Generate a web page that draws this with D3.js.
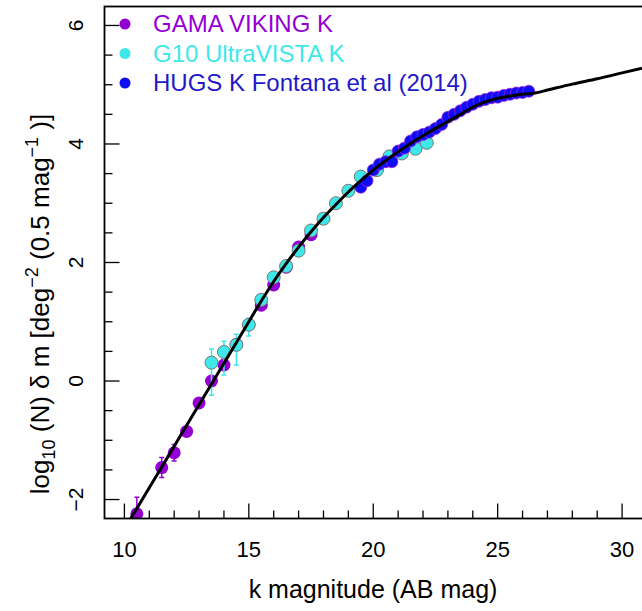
<!DOCTYPE html>
<html>
<head>
<meta charset="utf-8">
<script src="https://cdn.jsdelivr.net/npm/d3@7"></script>
<style>
  body { margin: 0; background: #fff; }
  text { font-family: "Liberation Sans", Arial, Helvetica, sans-serif; }
</style>
</head>
<body>
<svg width="642" height="611"></svg>
<script>
// GAMA VIKING K
var gamaMag  = [10.5, 11.5, 12.0, 12.5, 13.0, 13.5, 14.0, 14.5, 15.0, 15.5, 16.0, 16.5, 17.0, 17.5];
var gamaLogN = [-2.24, -1.46, -1.21, -0.85, -0.37, 0.0, 0.27, 0.62, 0.95, 1.28, 1.62, 1.92, 2.26, 2.47];
var gamaErr  = [0.28, 0.17, 0.14, 0.05, 0.04, 0.03, 0.03, 0.02, 0.02, 0.02, 0.02, 0.02, 0.02, 0.02];

// G10 UltraVISTA K
var g10Mag  = [13.5, 14.0, 14.5, 15.0, 15.5, 16.0, 16.5, 17.0, 17.5, 18.0, 18.5, 19.0, 19.5, 20.15, 20.65, 21.15, 21.7, 22.15];
var g10LogN = [0.31, 0.49, 0.61, 0.95, 1.37, 1.75, 1.94, 2.2, 2.54, 2.74, 3.0, 3.21, 3.45, 3.56, 3.79, 3.84, 3.92, 4.02];
var g10ErrLo = [0.55, 0.39, 0.34, 0.19, 0.03, 0.03, 0.02, 0.02, 0.02, 0.02, 0.02, 0.02, 0.02, 0.02, 0.02, 0.02, 0.02, 0.02];
var g10ErrHi = [0.23, 0.18, 0.18, 0.11, 0.03, 0.03, 0.02, 0.02, 0.02, 0.02, 0.02, 0.02, 0.02, 0.02, 0.02, 0.02, 0.02, 0.02];

// HUGS K Fontana et al (2014)
var hugsMag  = [19.5, 19.75, 20.0, 20.25, 20.5, 20.75, 21.0, 21.25, 21.5, 21.75, 22.0, 22.25, 22.5, 22.75,
                23.0, 23.25, 23.5, 23.75, 24.0, 24.25, 24.5, 24.75, 25.0, 25.25, 25.5, 25.75, 26.0, 26.25];
var hugsLogN = [3.27, 3.38, 3.56, 3.66, 3.70, 3.70, 3.88, 3.93, 4.05, 4.12, 4.16, 4.20, 4.26, 4.33,
                4.45, 4.50, 4.56, 4.62, 4.67, 4.72, 4.75, 4.78, 4.79, 4.82, 4.84, 4.86, 4.87, 4.89];

// model curve
var modelMag  = [10.0, 10.5, 11.0, 11.5, 12.0, 12.5, 13.0, 13.5, 14.0, 14.5, 15.0, 15.5, 16.0, 16.5, 17.0, 17.5,
                 18.0, 18.5, 19.0, 19.5, 20.0, 20.5, 21.0, 21.5, 22.0, 22.5, 23.0, 23.5, 24.0, 24.5, 25.0,
                 25.5, 26.0, 26.5, 27.0, 28.0, 29.0, 30.0, 30.8];
var modelLogN = [-2.5, -2.15, -1.80, -1.45, -1.10, -0.75, -0.40, -0.05, 0.30, 0.65, 1.00, 1.35, 1.68, 1.98, 2.26, 2.52,
                 2.76, 2.98, 3.19, 3.38, 3.56, 3.72, 3.87, 4.01, 4.14, 4.26, 4.38, 4.50, 4.62, 4.71, 4.77,
                 4.81, 4.84, 4.86, 4.91, 5.01, 5.10, 5.20, 5.28];

var xTicks = [10, 15, 20, 25, 30];
var yTicks = [-2, 0, 2, 4, 6];

var purple = "#9400d3", cyan = "#3ee8e8", blue = "#0c0cf5";

var svg = d3.select("svg");
var pL = 104.5, pR = 642, pT = 6.5, pB = 518.5;

var x = d3.scaleLinear().domain([9.2, 30.8]).range([pL, pR]);
var y = d3.scaleLinear().domain([-2.32, 6.32]).range([pB, pT]);

svg.append("defs").append("clipPath").attr("id", "clip")
  .append("rect").attr("x", pL).attr("y", pT).attr("width", pR - pL).attr("height", pB - pT);

var plot = svg.append("g").attr("clip-path", "url(#clip)");

function zip(a, b) { return a.map(function (d, i) { return {m: d, v: b[i], i: i}; }); }

function errorBars(data, lo, hi, color) {
  var g = plot.append("g").attr("stroke", color).attr("stroke-width", 1.5);
  data.forEach(function (d) {
    var y0 = y(d.v - lo[d.i]), y1 = y(d.v + hi[d.i]), cx = x(d.m);
    g.append("line").attr("x1", cx).attr("x2", cx).attr("y1", y0).attr("y2", y1);
    g.append("line").attr("x1", cx - 2.5).attr("x2", cx + 2.5).attr("y1", y0).attr("y2", y0);
    g.append("line").attr("x1", cx - 2.5).attr("x2", cx + 2.5).attr("y1", y1).attr("y2", y1);
  });
}

var gama = zip(gamaMag, gamaLogN);
var g10 = zip(g10Mag, g10LogN);
var hugs = zip(hugsMag, hugsLogN);

errorBars(gama, gamaErr, gamaErr, purple);
plot.append("g").selectAll("circle").data(gama).enter().append("circle")
  .attr("cx", function (d) { return x(d.m); })
  .attr("cy", function (d) { return y(d.v); })
  .attr("r", 6.5)
  .attr("fill", purple);

errorBars(g10, g10ErrLo, g10ErrHi, cyan);
plot.append("g").selectAll("circle").data(g10).enter().append("circle")
  .attr("cx", function (d) { return x(d.m); })
  .attr("cy", function (d) { return y(d.v); })
  .attr("r", 6.5)
  .attr("fill", cyan)
  .attr("stroke", "#777")
  .attr("stroke-width", 1);

plot.append("g").selectAll("circle").data(hugs).enter().append("circle")
  .attr("cx", function (d) { return x(d.m); })
  .attr("cy", function (d) { return y(d.v); })
  .attr("r", 6)
  .attr("fill", blue)
  .attr("stroke", "#9a22dd")
  .attr("stroke-width", 0.8);

var line = d3.line()
  .x(function (d) { return x(d.m); })
  .y(function (d) { return y(d.v); })
  .curve(d3.curveMonotoneX);

plot.append("path")
  .datum(zip(modelMag, modelLogN))
  .attr("d", line)
  .attr("fill", "none")
  .attr("stroke", "#000")
  .attr("stroke-width", 3);

// frame
svg.append("rect")
  .attr("x", pL).attr("y", pT)
  .attr("width", pR - pL + 5).attr("height", pB - pT)
  .attr("fill", "none").attr("stroke", "#000").attr("stroke-width", 1.8);

// ticks (inside)
var xMinor = d3.range(10, 31, 1);
svg.append("g").selectAll("line").data(xMinor).enter().append("line")
  .attr("x1", function (d) { return x(d); })
  .attr("x2", function (d) { return x(d); })
  .attr("y1", pB)
  .attr("y2", function (d) { return pB - (d % 5 === 0 ? 15 : 8); })
  .attr("stroke", "#000").attr("stroke-width", 1.3);

var yMinor = d3.range(-2, 6.01, 0.5);
svg.append("g").selectAll("line").data(yMinor).enter().append("line")
  .attr("y1", function (d) { return y(d); })
  .attr("y2", function (d) { return y(d); })
  .attr("x1", pL)
  .attr("x2", function (d) { return pL + (d % 2 === 0 ? 15 : 8); })
  .attr("stroke", "#000").attr("stroke-width", 1.3);

// tick labels
svg.append("g").selectAll("text").data(xTicks).enter().append("text")
  .attr("x", function (d) { return x(d); })
  .attr("y", 557)
  .attr("text-anchor", "middle")
  .attr("font-size", 22)
  .text(function (d) { return d; });

svg.append("g").selectAll("text").data(yTicks).enter().append("text")
  .attr("transform", function (d) { return "translate(83," + y(d) + ") rotate(-90)"; })
  .attr("text-anchor", "middle")
  .attr("font-size", 21)
  .text(function (d) { return d < 0 ? "\u2212" + Math.abs(d) : d; });

// axis titles
svg.append("text")
  .attr("x", 373).attr("y", 598)
  .attr("text-anchor", "middle")
  .attr("font-size", 25)
  .text("k magnitude (AB mag)");

var yt = svg.append("text")
  .attr("transform", "translate(49,304) rotate(-90)")
  .attr("text-anchor", "middle")
  .attr("font-size", 26);
yt.append("tspan").text("log");
yt.append("tspan").attr("font-size", 18).attr("dy", 6).text("10");
yt.append("tspan").attr("dy", -6).text(" (N) \u03b4 m [deg");
yt.append("tspan").attr("font-size", 18).attr("dy", -11).text("\u22122");
yt.append("tspan").attr("dy", 11).text(" (0.5 mag");
yt.append("tspan").attr("font-size", 18).attr("dy", -11).text("\u22121");
yt.append("tspan").attr("dy", 11).text(" )]");

// legend
var legNames = ["GAMA VIKING K", "G10 UltraVISTA K", "HUGS K Fontana et al (2014)"];
var legColors = [purple, cyan, blue];
var leg = svg.append("g");
legNames.forEach(function (name, i) {
  var ly = 24 + i * 29.5;
  leg.append("circle").attr("cx", 125).attr("cy", ly).attr("r", 5.5).attr("fill", legColors[i]);
  leg.append("text").attr("x", 153).attr("y", ly + 8)
    .attr("font-size", 24)
    .attr("fill", i === 2 ? "#2318c8" : legColors[i])
    .text(name);
});
</script>
</body>
</html>
